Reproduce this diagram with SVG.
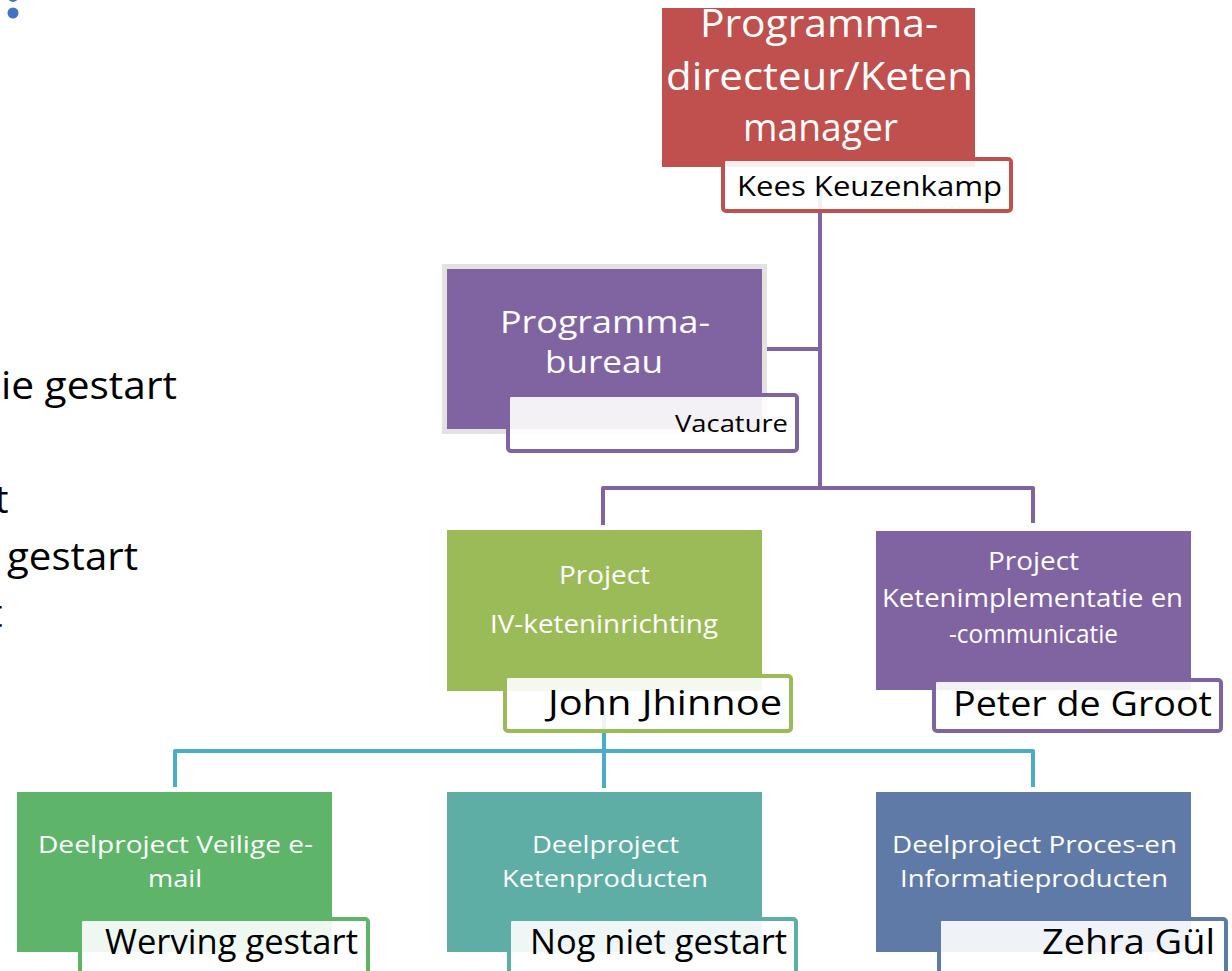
<svg xmlns="http://www.w3.org/2000/svg" width="1232" height="971" viewBox="0 0 1232 971">
<style>
text{font-family:"Open Sans","Noto Sans","Liberation Sans",sans-serif}
.t{fill:#ffffff;text-anchor:start}
.n{fill:#000000}
.box{fill:#ffffff;fill-opacity:0.9;stroke-width:4}
.cp{fill:none;stroke:#8064A2;stroke-width:4;stroke-linejoin:round}
.cb{fill:none;stroke:#4BACC6;stroke-width:4;stroke-linejoin:round}
.side{fill:#000000;font-size:38px}
</style>
<rect width="1232" height="971" fill="#ffffff"/>
<g id="sidetext">
<circle cx="13" cy="-3" r="5" fill="#4472C4"/>
<circle cx="13" cy="13" r="5.5" fill="#4472C4"/>
<text class="side" x="1" y="399" textLength="176" lengthAdjust="spacingAndGlyphs">ie gestart</text>
<text class="side" x="-5" y="513">t</text>
<text class="side" x="7" y="570" textLength="131" lengthAdjust="spacingAndGlyphs">gestart</text>
<text class="side" x="-11" y="627">t</text>
</g>
<g id="connectors">
<path class="cp" d="M820 190 V488 M767 349 H820 M603 525 V488 H1033 V523"/>
<path class="cb" d="M604 715 V788 M175 787 V751 H1033 V787"/>
</g>
<g id="node-director">
<rect x="662" y="8" width="313" height="159" fill="#C0504D"/>
<text class="t" x="700" y="37" font-size="38" textLength="238" lengthAdjust="spacingAndGlyphs">Programma-</text>
<text class="t" x="666" y="90" font-size="38" textLength="307" lengthAdjust="spacingAndGlyphs">directeur/Keten</text>
<text class="t" x="743" y="141" font-size="38" textLength="155" lengthAdjust="spacingAndGlyphs">manager</text>
<rect class="box" x="723" y="159" width="288" height="52" rx="3" stroke="#C0504D"/>
<text class="n" x="737" y="196" font-size="28" textLength="265" lengthAdjust="spacingAndGlyphs">Kees Keuzenkamp</text>
</g>
<g id="node-bureau">
<rect x="444.5" y="266.5" width="320" height="165" fill="#8064A2" stroke="#E2E2E2" stroke-width="5"/>
<text class="t" x="500" y="333" font-size="31" textLength="210" lengthAdjust="spacingAndGlyphs">Programma-</text>
<text class="t" x="545" y="373" font-size="31" textLength="118" lengthAdjust="spacingAndGlyphs">bureau</text>
<rect class="box" x="508" y="395" width="289" height="56" rx="3" stroke="#8064A2"/>
<text class="n" x="675" y="432" font-size="24" textLength="113" lengthAdjust="spacingAndGlyphs">Vacature</text>
</g>
<g id="node-iv">
<rect x="447" y="530" width="315" height="161" fill="#9BBB59"/>
<text class="t" x="559" y="584" font-size="25" textLength="91" lengthAdjust="spacingAndGlyphs">Project</text>
<text class="t" x="490" y="633" font-size="25" textLength="228" lengthAdjust="spacingAndGlyphs">IV-keteninrichting</text>
<rect class="box" x="505" y="676" width="286" height="55" rx="3" stroke="#9BBB59"/>
<text class="n" x="548" y="715" font-size="35" textLength="234" lengthAdjust="spacingAndGlyphs">John Jhinnoe</text>
</g>
<g id="node-keten">
<rect x="876" y="531" width="315" height="159" fill="#8064A2"/>
<text class="t" x="988" y="570" font-size="25" textLength="91" lengthAdjust="spacingAndGlyphs">Project</text>
<text class="t" x="882" y="607" font-size="25" textLength="301" lengthAdjust="spacingAndGlyphs">Ketenimplementatie en</text>
<text class="t" x="949" y="643" font-size="25" textLength="169" lengthAdjust="spacingAndGlyphs">-communicatie</text>
<rect class="box" x="934" y="680" width="287" height="51" rx="3" stroke="#8064A2"/>
<text class="n" x="953" y="716" font-size="35" textLength="259" lengthAdjust="spacingAndGlyphs">Peter de Groot</text>
</g>
<g id="node-email">
<rect x="17" y="792" width="315" height="160" fill="#5EB56A"/>
<text class="t" x="38" y="853" font-size="24" textLength="275" lengthAdjust="spacingAndGlyphs">Deelproject Veilige e-</text>
<text class="t" x="148" y="887" font-size="24" textLength="54" lengthAdjust="spacingAndGlyphs">mail</text>
<rect class="box" x="80" y="919" width="288" height="62" rx="3" stroke="#5EB56A"/>
<text class="n" x="105" y="954" font-size="34" textLength="253" lengthAdjust="spacingAndGlyphs">Werving gestart</text>
</g>
<g id="node-ketenproducten">
<rect x="447" y="792" width="315" height="160" fill="#5EAEA5"/>
<text class="t" x="532" y="853" font-size="24" textLength="147" lengthAdjust="spacingAndGlyphs">Deelproject</text>
<text class="t" x="502" y="887" font-size="24" textLength="206" lengthAdjust="spacingAndGlyphs">Ketenproducten</text>
<rect class="box" x="509" y="919" width="287" height="62" rx="3" stroke="#5EAEA5"/>
<text class="n" x="530" y="954" font-size="34" textLength="257" lengthAdjust="spacingAndGlyphs">Nog niet gestart</text>
</g>
<g id="node-proces">
<rect x="876" y="792" width="315" height="160" fill="#607AA8"/>
<text class="t" x="892" y="853" font-size="24" textLength="285" lengthAdjust="spacingAndGlyphs">Deelproject Proces-en</text>
<text class="t" x="900" y="887" font-size="24" textLength="268" lengthAdjust="spacingAndGlyphs">Informatieproducten</text>
<rect class="box" x="939" y="919" width="287" height="62" rx="3" stroke="#607AA8"/>
<text class="n" x="1042" y="954" font-size="34" textLength="173" lengthAdjust="spacingAndGlyphs">Zehra Gül</text>
</g>
</svg>
